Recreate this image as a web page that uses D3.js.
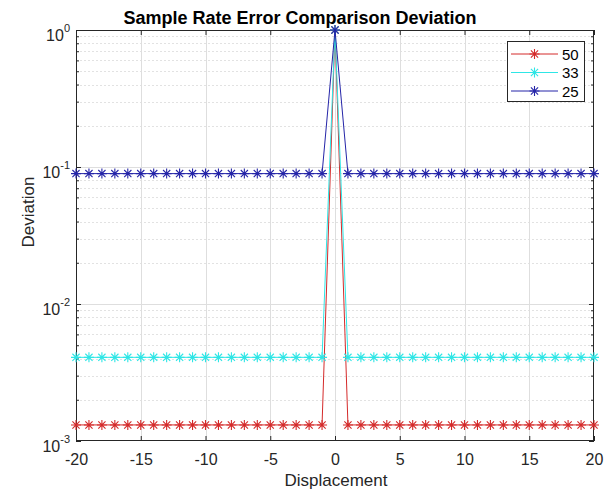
<!DOCTYPE html>
<html>
<head>
<meta charset="utf-8">
<script src="https://cdn.jsdelivr.net/npm/d3@7"></script>
<style>
html,body{margin:0;padding:0;background:#fff;}
svg{display:block;font-family:"Liberation Sans",Arial,sans-serif;}
</style>
</head>
<body>
<svg id="chart" width="614" height="491"></svg>
<script>
const displacement = [-20,-19,-18,-17,-16,-15,-14,-13,-12,-11,-10,-9,-8,-7,-6,-5,-4,-3,-2,-1,0,1,2,3,4,5,6,7,8,9,10,11,12,13,14,15,16,17,18,19,20];
const dev50 = [0.00131,0.00131,0.00131,0.00131,0.00131,0.00131,0.00131,0.00131,0.00131,0.00131,0.00131,0.00131,0.00131,0.00131,0.00131,0.00131,0.00131,0.00131,0.00131,0.00131,1,0.00131,0.00131,0.00131,0.00131,0.00131,0.00131,0.00131,0.00131,0.00131,0.00131,0.00131,0.00131,0.00131,0.00131,0.00131,0.00131,0.00131,0.00131,0.00131,0.00131];
const dev33 = [0.00408,0.00408,0.00408,0.00408,0.00408,0.00408,0.00408,0.00408,0.00408,0.00408,0.00408,0.00408,0.00408,0.00408,0.00408,0.00408,0.00408,0.00408,0.00408,0.00408,1,0.00408,0.00408,0.00408,0.00408,0.00408,0.00408,0.00408,0.00408,0.00408,0.00408,0.00408,0.00408,0.00408,0.00408,0.00408,0.00408,0.00408,0.00408,0.00408,0.00408];
const dev25 = [0.0895,0.0895,0.0895,0.0895,0.0895,0.0895,0.0895,0.0895,0.0895,0.0895,0.0895,0.0895,0.0895,0.0895,0.0895,0.0895,0.0895,0.0895,0.0895,0.0895,1,0.0895,0.0895,0.0895,0.0895,0.0895,0.0895,0.0895,0.0895,0.0895,0.0895,0.0895,0.0895,0.0895,0.0895,0.0895,0.0895,0.0895,0.0895,0.0895,0.0895];
const seriesNames = ["50","33","25"];
const seriesColors = ["#d42a2a","#2ee6e6","#2525a8"];
const xTicks = [-20,-15,-10,-5,0,5,10,15,20];
const yTicks = [0.001,0.01,0.1,1];
const yExponents = ["-3","-2","-1","0"];

const svg = d3.select("#chart");
const L = 76, R = 594, T = 30, B = 441;
const x = d3.scaleLinear().domain([-20,20]).range([L,R]);
const y = d3.scaleLog().domain([0.001,1]).range([B,T]);

const minorY = [];
for (let d = -3; d < 0; d++) for (let m = 2; m <= 9; m++) minorY.push(m*Math.pow(10,d));

const g = svg.append("g");
g.selectAll(".ymin").data(minorY).enter().append("line")
  .attr("x1",L).attr("x2",R).attr("y1",d=>Math.round(y(d))+0.5).attr("y2",d=>Math.round(y(d))+0.5)
  .attr("stroke","#e2e2e2").attr("stroke-dasharray","2,2").attr("stroke-width",1);
g.selectAll(".ymaj").data(yTicks.slice(1,3)).enter().append("line")
  .attr("x1",L).attr("x2",R).attr("y1",d=>Math.round(y(d))+0.5).attr("y2",d=>Math.round(y(d))+0.5)
  .attr("stroke","#dedede").attr("stroke-width",1);
g.selectAll(".xmaj").data(xTicks.slice(1,-1)).enter().append("line")
  .attr("y1",T).attr("y2",B).attr("x1",d=>Math.round(x(d))+0.5).attr("x2",d=>Math.round(x(d))+0.5)
  .attr("stroke","#dedede").attr("stroke-width",1);

const axB = svg.append("g").attr("transform",`translate(0,${B})`)
  .call(d3.axisBottom(x).tickValues(xTicks).tickSizeInner(-5).tickSizeOuter(0).tickPadding(13).tickFormat(d=>d));
axB.select(".domain").remove();
axB.selectAll("line").attr("stroke","#262626");
axB.selectAll("text").attr("font-size","16px").attr("fill","#262626").attr("font-family","Liberation Sans, Arial, sans-serif");
const axT = svg.append("g").attr("transform",`translate(0,${T})`)
  .call(d3.axisTop(x).tickValues(xTicks).tickSizeInner(-5).tickSizeOuter(0).tickFormat(""));
axT.select(".domain").remove();
axT.selectAll("line").attr("stroke","#262626");

const axL = svg.append("g").attr("transform",`translate(${L},0)`)
  .call(d3.axisLeft(y).tickValues(yTicks).tickSizeInner(-5).tickSizeOuter(0).tickFormat(""));
axL.select(".domain").remove();
axL.selectAll("line").attr("stroke","#262626");
const axLm = svg.append("g").attr("transform",`translate(${L},0)`)
  .call(d3.axisLeft(y).tickValues(minorY).tickSizeInner(-3).tickSizeOuter(0).tickFormat(""));
axLm.select(".domain").remove();
axLm.selectAll("line").attr("stroke","#262626");
const axR = svg.append("g").attr("transform",`translate(${R},0)`)
  .call(d3.axisRight(y).tickValues(yTicks).tickSizeInner(-5).tickSizeOuter(0).tickFormat(""));
axR.select(".domain").remove();
axR.selectAll("line").attr("stroke","#262626");
const axRm = svg.append("g").attr("transform",`translate(${R},0)`)
  .call(d3.axisRight(y).tickValues(minorY).tickSizeInner(-3).tickSizeOuter(0).tickFormat(""));
axRm.select(".domain").remove();
axRm.selectAll("line").attr("stroke","#262626");

yTicks.forEach((v,i)=>{
  const t = svg.append("text").attr("x",L-6).attr("y",y(v)+11)
    .attr("text-anchor","end").attr("font-size","16px").attr("fill","#262626");
  t.append("tspan").text("10");
  t.append("tspan").attr("font-size","11px").attr("dy","-9").text(yExponents[i]);
});

svg.append("rect").attr("x",L+0.5).attr("y",T+0.5).attr("width",R-L-1).attr("height",B-T-1)
  .attr("fill","none").attr("stroke","#262626").attr("stroke-width",1);

const allSeries = [dev50,dev33,dev25];
const line = d3.line().x((d,i)=>x(displacement[i])).y(d=>y(d));
function starPath(cx,cy,r){
  const d = r*0.72;
  return `M${cx-r},${cy}L${cx+r},${cy}M${cx},${cy-r}L${cx},${cy+r}M${cx-d},${cy-d}L${cx+d},${cy+d}M${cx-d},${cy+d}L${cx+d},${cy-d}`;
}
allSeries.forEach((vals,si)=>{
  const col = seriesColors[si];
  svg.append("path").datum(vals).attr("d",line).attr("fill","none")
    .attr("stroke",col).attr("stroke-width",1);
  svg.append("g").selectAll("path").data(vals).enter().append("path")
    .attr("d",(d,i)=>starPath(x(displacement[i]),y(d),5))
    .attr("stroke",col).attr("stroke-width",1.1).attr("fill","none");
});

const lg = svg.append("g");
lg.append("rect").attr("x",507.5).attr("y",41.5).attr("width",77).attr("height",60)
  .attr("fill","#fff").attr("stroke","#262626").attr("stroke-width",1);
seriesNames.forEach((n,i)=>{
  const ly = 54 + i*18.5;
  lg.append("line").attr("x1",511).attr("x2",558).attr("y1",ly).attr("y2",ly)
    .attr("stroke",seriesColors[i]).attr("stroke-width",1);
  lg.append("path").attr("d",starPath(534.5,ly,5)).attr("stroke",seriesColors[i]).attr("stroke-width",1.1).attr("fill","none");
  lg.append("text").attr("x",562).attr("y",ly+5.5).attr("font-size","15px").attr("fill","#000").text(n);
});

svg.append("text").attr("x",300).attr("y",24).attr("text-anchor","middle")
  .attr("font-size","18px").attr("font-weight","bold").attr("fill","#000")
  .text("Sample Rate Error Comparison Deviation");
svg.append("text").attr("x",336).attr("y",486).attr("text-anchor","middle")
  .attr("font-size","17px").attr("fill","#262626").text("Displacement");
svg.append("text").attr("transform","translate(34,212) rotate(-90)").attr("text-anchor","middle")
  .attr("font-size","17px").attr("fill","#262626").text("Deviation");
</script>
</body>
</html>
